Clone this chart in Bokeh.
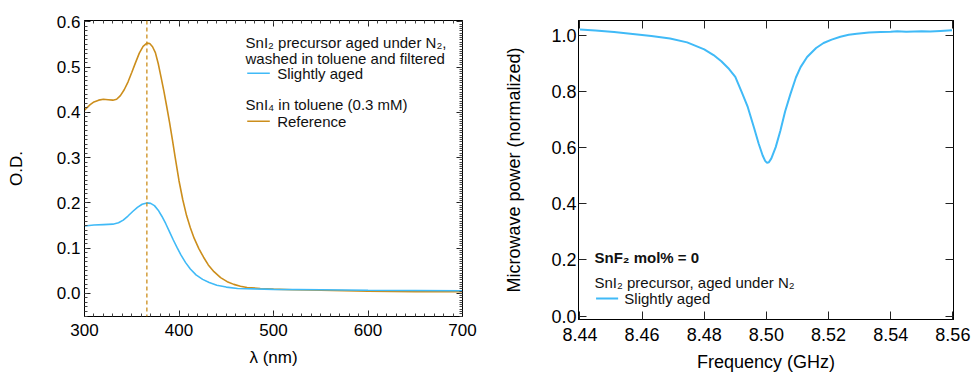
from bokeh.plotting import figure
from bokeh.models import (LinearAxis, SingleIntervalTicker, PrintfTickFormatter,
                          CustomJSTickFormatter, Span, Label, Range1d)
from bokeh.layouts import row
from bokeh.embed import file_html
from bokeh.resources import INLINE

# ---------------- data ----------------
# Left panel: absorbance spectra
ref_wavelength = [300, 303, 306, 310, 315, 320, 325, 330, 334, 338, 342, 346, 350, 354, 358,
                  362, 366, 369, 372, 375, 378, 381, 384, 387, 390, 393, 396, 400, 404, 408,
                  412, 416, 421, 426, 431, 437, 444, 451, 458, 465, 472, 486, 500, 520, 550,
                  600, 650, 700]
ref_od = [0.405, 0.411, 0.417, 0.423, 0.427, 0.429, 0.428, 0.427, 0.429, 0.437, 0.450, 0.467,
          0.488, 0.510, 0.531, 0.546, 0.553, 0.552, 0.545, 0.532, 0.508, 0.478, 0.447, 0.413,
          0.378, 0.340, 0.300, 0.249, 0.207, 0.172, 0.145, 0.122, 0.099, 0.080, 0.063, 0.048,
          0.035, 0.026, 0.020, 0.016, 0.013, 0.011, 0.0095, 0.008, 0.007, 0.005, 0.004, 0.004]

aged_wavelength = [300, 310, 320, 330, 336, 341, 346, 351, 356, 361, 366, 370, 374, 378, 382,
                   386, 390, 394, 398, 402, 407, 412, 418, 425, 432, 440, 450, 462, 480, 500,
                   550, 600, 650, 700]
aged_od = [0.149, 0.151, 0.152, 0.153, 0.156, 0.162, 0.171, 0.181, 0.190, 0.197, 0.200, 0.199,
           0.194, 0.184, 0.170, 0.154, 0.136, 0.118, 0.101, 0.085, 0.068, 0.054, 0.041, 0.031,
           0.024, 0.018, 0.014, 0.011, 0.010, 0.009, 0.008, 0.007, 0.0065, 0.006]

peak_nm = 366

# Right panel: microwave resonance
freq_ghz = [8.4400, 8.4450, 8.4510, 8.4570, 8.4630, 8.4690, 8.4745, 8.4800, 8.4830, 8.4855,
            8.4880, 8.4900, 8.4920, 8.4940, 8.4960, 8.4975, 8.4988, 8.4996, 8.5002, 8.5008,
            8.5016, 8.5030, 8.5045, 8.5060, 8.5077, 8.5095, 8.5110, 8.5131, 8.5160, 8.5184,
            8.5210, 8.5238, 8.5265, 8.5291, 8.5330, 8.5367, 8.5400, 8.5421, 8.5450, 8.5475,
            8.5500, 8.5527, 8.5560, 8.5597]
power_norm = [1.021, 1.017, 1.012, 1.005, 0.998, 0.989, 0.975, 0.950, 0.930, 0.908,
              0.880, 0.852, 0.800, 0.745, 0.672, 0.615, 0.572, 0.553, 0.546, 0.548,
              0.562, 0.602, 0.660, 0.728, 0.790, 0.850, 0.887, 0.923, 0.955, 0.973,
              0.985, 0.995, 1.002, 1.006, 1.010, 1.012, 1.013, 1.015, 1.013, 1.014,
              1.015, 1.014, 1.016, 1.018]

FONT = "Liberation Sans"
BLUE = "#40baf7"
ORANGE = "#cc8e1c"


def make_axis(ticker, fmt, major_in, minor_in, size, standoff, label=None, label_standoff=0):
    ax = LinearAxis(ticker=ticker, formatter=fmt)
    ax.major_tick_in = major_in
    ax.major_tick_out = 0
    ax.minor_tick_in = minor_in
    ax.minor_tick_out = 0
    ax.axis_line_color = "black"
    ax.major_tick_line_color = "#222222"
    ax.minor_tick_line_color = "#444444"
    ax.major_label_text_font = FONT
    ax.major_label_text_font_size = size
    ax.major_label_text_color = "black"
    ax.major_label_standoff = standoff
    if label:
        ax.axis_label = label
        ax.axis_label_text_font = FONT
        ax.axis_label_text_font_style = "normal"
        ax.axis_label_text_font_size = size
        ax.axis_label_text_color = "black"
        ax.axis_label_standoff = label_standoff
    return ax


blank = CustomJSTickFormatter(code="return ''")

# ---------------- left panel ----------------
p1 = figure(frame_width=378, frame_height=296, x_range=Range1d(300, 700),
            y_range=Range1d(-0.051, 0.603), output_backend="svg", toolbar_location=None,
            x_axis_location=None, y_axis_location=None,
            min_border_left=84, min_border_right=18, min_border_top=20, min_border_bottom=56)
p1.xgrid.visible = False
p1.ygrid.visible = False
p1.outline_line_color = "black"
p1.background_fill_color = "white"
p1.border_fill_color = "white"

p1.add_layout(make_axis(SingleIntervalTicker(interval=100, num_minor_ticks=10),
                        PrintfTickFormatter(format="%d"), 6, 3, "17px", 7,
                        "λ (nm)", 9), "below")
p1.add_layout(make_axis(SingleIntervalTicker(interval=0.1, num_minor_ticks=10),
                        PrintfTickFormatter(format="%.1f"), 6, 3, "17px", 4,
                        "O.D.", 28), "left")
p1.add_layout(make_axis(SingleIntervalTicker(interval=100, num_minor_ticks=10),
                        blank, 6, 3, "1px", 0), "above")
p1.add_layout(make_axis(SingleIntervalTicker(interval=0.1, num_minor_ticks=20),
                        blank, 6, 3, "1px", 0), "right")

p1.add_layout(Span(location=peak_nm, dimension="height", line_color=ORANGE,
                   line_dash="4 3", line_width=1.3))
p1.line(ref_wavelength, ref_od, line_color=ORANGE, line_width=1.6)
p1.line(aged_wavelength, aged_od, line_color=BLUE, line_width=1.6)

leg1 = [("SnI₂ precursor aged under N₂,", 470.4, 0.555),
        ("washed in toluene and filtered", 470.4, 0.518),
        ("Slightly aged", 503.9, 0.4865),
        ("SnI₄ in toluene (0.3 mM)", 470.4, 0.4167),
        ("Reference", 503.9, 0.3805)]
for txt, lx, ly in leg1:
    p1.add_layout(Label(x=lx, y=ly, text=txt, text_font=FONT, text_font_size="15px",
                        text_baseline="middle", text_align="left", text_color="#111111"))
p1.segment(x0=[472.2], y0=[0.4865], x1=[496.1], y1=[0.4865], line_color=BLUE, line_width=1.6)
p1.segment(x0=[472.2], y0=[0.3805], x1=[496.1], y1=[0.3805], line_color=ORANGE, line_width=1.6)

# ---------------- right panel ----------------
p2 = figure(frame_width=375, frame_height=299, x_range=Range1d(8.43955, 8.5602),
            y_range=Range1d(-0.012, 1.053), output_backend="svg", toolbar_location=None,
            x_axis_location=None, y_axis_location=None,
            min_border_left=98, min_border_right=20, min_border_top=20, min_border_bottom=53)
p2.xgrid.visible = False
p2.ygrid.visible = False
p2.outline_line_color = "black"
p2.background_fill_color = "white"
p2.border_fill_color = "white"

p2.add_layout(make_axis(SingleIntervalTicker(interval=0.02, num_minor_ticks=0),
                        PrintfTickFormatter(format="%.2f"), 8, 0, "18px", 8,
                        "Frequency (GHz)", 8), "below")
p2.add_layout(make_axis(SingleIntervalTicker(interval=0.2, num_minor_ticks=0),
                        PrintfTickFormatter(format="%.1f"), 8, 0, "18px", 2,
                        "Microwave power (normalized)", 24), "left")
p2.add_layout(make_axis(SingleIntervalTicker(interval=0.02, num_minor_ticks=0),
                        blank, 8, 0, "1px", 0), "above")
p2.add_layout(make_axis(SingleIntervalTicker(interval=0.2, num_minor_ticks=0),
                        blank, 8, 0, "1px", 0), "right")

p2.line(freq_ghz, power_norm, line_color=BLUE, line_width=2)

p2.add_layout(Label(x=8.4447, y=0.210, text="SnF₂ mol% = 0", text_font=FONT,
                    text_font_size="15px", text_font_style="bold",
                    text_baseline="middle", text_align="left", text_color="#111111"))
p2.add_layout(Label(x=8.4447, y=0.121, text="SnI₂ precursor, aged under N₂", text_font=FONT,
                    text_font_size="15px", text_baseline="middle", text_align="left",
                    text_color="#111111"))
p2.add_layout(Label(x=8.4543, y=0.063, text="Slightly aged", text_font=FONT,
                    text_font_size="15px", text_baseline="middle", text_align="left",
                    text_color="#111111"))
p2.segment(x0=[8.4452], y0=[0.063], x1=[8.4523], y1=[0.063], line_color=BLUE, line_width=2)

layout = row(p1, p2)
open("out.html", "w").write(file_html(layout, INLINE))
